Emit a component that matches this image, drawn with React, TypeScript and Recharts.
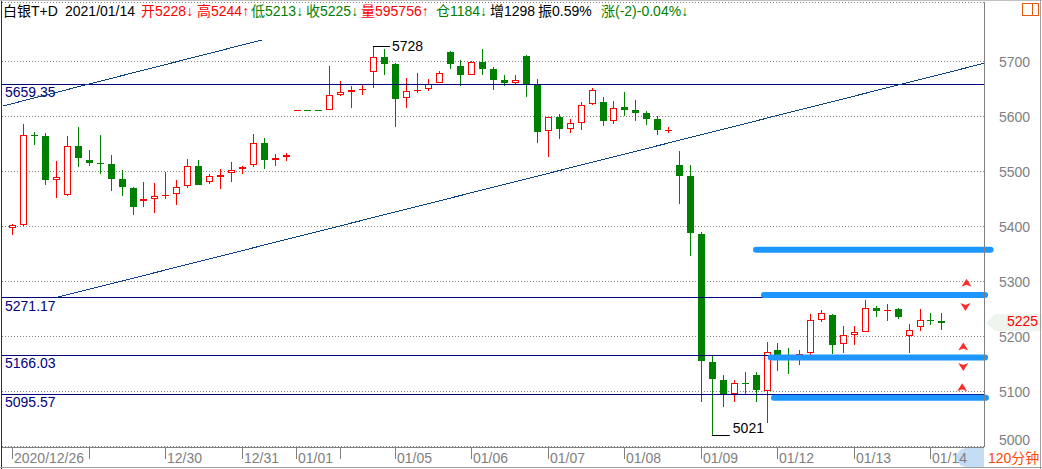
import React from 'react';
import {
  ComposedChart,
  Bar,
  XAxis,
  YAxis,
  CartesianGrid,
  ReferenceLine,
  ReferenceDot,
} from 'recharts';

// 白银T+D, 120-minute bars, 2020/12/26 .. 2021/01/14
const opens = [
  5397, 5403, 5567, 5565, 5484, 5457, 5546, 5521, 5516, 5514, 5486, 5470, 5446, 5450, 5457, 5459, 5474, 5510,
  5481, 5490, 5497, 5504, 5512, 5552, 5522, 5527, 5611, 5612, 5612, 5613, 5640, 5645, 5648, 5682, 5709, 5696,
  5634, 5647, 5651, 5661, 5717, 5692, 5675, 5699, 5687, 5666, 5661, 5710, 5658, 5574, 5600, 5577, 5589, 5623,
  5627, 5593, 5618, 5612, 5607, 5596, 5575, 5512, 5492, 5387, 5154, 5121, 5096, 5116, 5131, 5102, 5175, 5161,
  5167, 5170, 5231, 5240, 5186, 5204, 5209, 5252, 5247, 5250, 5202, 5217, 5231, 5228,
];
const highs = [
  5405, 5587, 5573, 5570, 5520, 5565, 5581, 5540, 5567, 5530, 5503, 5472, 5481, 5480, 5500, 5485, 5523, 5521,
  5496, 5505, 5518, 5510, 5569, 5561, 5532, 5534, 5612, 5612, 5612, 5692, 5665, 5656, 5660, 5728, 5723, 5697,
  5670, 5680, 5669, 5683, 5720, 5703, 5701, 5723, 5691, 5675, 5676, 5712, 5669, 5600, 5605, 5595, 5627, 5652,
  5636, 5629, 5645, 5630, 5610, 5601, 5581, 5538, 5512, 5390, 5165, 5131, 5121, 5136, 5136, 5190, 5188, 5179,
  5175, 5241, 5249, 5241, 5220, 5220, 5267, 5256, 5260, 5253, 5223, 5250, 5243, 5244,
];
const lows = [
  5385, 5402, 5549, 5475, 5453, 5455, 5509, 5511, 5496, 5464, 5456, 5422, 5435, 5424, 5451, 5440, 5470, 5475,
  5477, 5469, 5482, 5495, 5509, 5504, 5511, 5520, 5611, 5611, 5611, 5613, 5638, 5616, 5640, 5653, 5675, 5582,
  5616, 5643, 5646, 5661, 5686, 5656, 5675, 5675, 5649, 5655, 5658, 5636, 5553, 5526, 5560, 5570, 5576, 5621,
  5583, 5587, 5601, 5593, 5584, 5567, 5571, 5442, 5346, 5082, 5021, 5073, 5082, 5094, 5082, 5043, 5138, 5132,
  5149, 5167, 5227, 5169, 5171, 5185, 5209, 5235, 5229, 5233, 5171, 5211, 5221, 5213,
];
const closes = [
  5403, 5566, 5566, 5484, 5490, 5546, 5524, 5516, 5515, 5487, 5473, 5435, 5450, 5455, 5458, 5472, 5510, 5476,
  5492, 5494, 5503, 5508, 5552, 5522, 5524, 5530, 5612, 5611, 5611, 5639, 5644, 5648, 5650, 5708, 5695, 5633,
  5646, 5649, 5660, 5679, 5695, 5675, 5700, 5687, 5667, 5661, 5666, 5658, 5573, 5600, 5578, 5588, 5621, 5649,
  5593, 5616, 5612, 5607, 5596, 5575, 5576, 5493, 5389, 5155, 5124, 5096, 5115, 5115, 5103, 5173, 5166, 5160,
  5168, 5230, 5244, 5185, 5203, 5208, 5252, 5247, 5248, 5235, 5213, 5230, 5230, 5225,
];

const tickBars = [0, 7, 14, 21, 26, 30, 35, 42, 49, 56, 63, 70, 77, 84];
const tickLabels = ['2020/12/26', '', '12/30', '12/31', '01/01', '', '01/05', '01/06', '01/07', '01/08', '01/09', '01/12', '01/13', '01/14'];
const priceTicks = [5000, 5100, 5200, 5300, 5400, 5500, 5600, 5700];

// horizontal price levels drawn on the chart
const levels = [5659.35, 5271.17, 5166.03, 5095.57];

// trend lines: [startBar, startPrice, endBar, endPrice]
const trendLines = [
  [-0.85, 5619.5, 22.85, 5739.5],
  [4.09, 5271.5, 88.9, 5697],
];

// thick blue zone lines: [fromBar, toBar, price]
const zoneLines = [
  [68.04, 89.5, 5358],
  [68.77, 89.0, 5276],
  [69.39, 89.0, 5162],
  [69.69, 89.08, 5089],
];

// red arrow marks: [bar, price, direction]
const arrowMarks: [number, number, string][] = [
  [87.3, 5298, 'up'],
  [87.2, 5254, 'down'],
  [87.0, 5182, 'up'],
  [87.0, 5145, 'down'],
  [86.9, 5108, 'up'],
];

const volume = 595756;
const openInterest = 1184;
const oiChange = 1298;
const amplitude = '0.59%';
const changeText = '(-2)-0.04%';

const RED = '#ff0000';
const GREEN = '#008000';
const NAVY = '#000080';
const GRAY = '#808080';
const FONT = '"Liberation Sans", Arial, "Noto Sans CJK SC", sans-serif';

const data = opens.map((o, i) => ({
  i,
  o,
  h: highs[i],
  l: lows[i],
  c: closes[i],
  range: [lows[i], highs[i]],
}));

const last = data.length - 1;
const hiIdx = highs.indexOf(Math.max(...highs));
const loIdx = lows.indexOf(Math.min(...lows));

const Candle = (props: any) => {
  const { x, y, width, height, payload } = props;
  if (x == null || y == null || !payload) return null;
  const { o, h, l, c } = payload;
  const top = Math.min(y, y + height);
  const bottom = Math.max(y, y + height);
  const span = h - l;
  const py = (v: number) => (span > 0 ? top + ((h - v) / span) * (bottom - top) : top);
  const cx = Math.round(x + width / 2);
  const up = c >= o;
  const color = up ? RED : GREEN;
  const bTop = Math.round(py(Math.max(o, c)));
  const bBot = Math.round(py(Math.min(o, c)));
  const bh = Math.max(bBot - bTop, 1);
  const wx = cx + 0.5;
  return (
    <g>
      <line x1={wx} x2={wx} y1={Math.round(top)} y2={Math.round(bottom)} stroke={color} strokeWidth={1} />
      {up && bh > 2 ? (
        <rect x={cx - 2.5} y={bTop + 0.5} width={6} height={bh - 1} fill="#fff" stroke={color} strokeWidth={1} />
      ) : (
        <rect x={cx - 3} y={bTop} width={7} height={bh} fill={color} />
      )}
    </g>
  );
};

const DateTick = (props: any) => {
  const { x, payload } = props;
  const k = tickBars.indexOf(payload.value);
  const label = k >= 0 ? tickLabels[k] : '';
  const tx = Math.round(x) + 0.5;
  return (
    <g>
      <line x1={tx} x2={tx} y1={448} y2={459} stroke={GRAY} />
      {label && (
        <text x={tx + 1.5} y={463} fill={GRAY} fontSize={14} fontFamily={FONT}>
          {label}
        </text>
      )}
    </g>
  );
};

const PriceTick = (props: any) => {
  const { y, payload } = props;
  const ty = Math.min(y, 440);
  return (
    <text x={999} y={ty + 5} fill={GRAY} fontSize={14} fontFamily={FONT}>
      {payload.value}
    </text>
  );
};

const levelLabel = (text: string) => (p: any) => (
  <text x={p.viewBox.x + 3} y={p.viewBox.y + 13} fill={NAVY} fontSize={14} fontFamily={FONT}>
    {text}
  </text>
);

const Arrow = (dir: string) => (p: any) => {
  const { cx, cy } = p;
  const pts =
    dir === 'up'
      ? `${cx - 5},${cy + 4} ${cx},${cy - 4} ${cx + 5},${cy + 4} ${cx},${cy + 2}`
      : `${cx - 5},${cy - 4} ${cx},${cy - 2} ${cx + 5},${cy - 4} ${cx},${cy + 4}`;
  return <polygon points={pts} fill="#ff2a2a" />;
};

const HighMark = (p: any) => (
  <g>
    <line x1={p.cx} x2={p.cx + 17} y1={Math.round(p.cy) + 0.5} y2={Math.round(p.cy) + 0.5} stroke="#000" />
    <text x={p.cx + 19} y={p.cy + 5} fill="#000" fontSize={14} fontFamily={FONT}>
      {highs[hiIdx]}
    </text>
  </g>
);

const LowMark = (p: any) => (
  <g>
    <line x1={p.cx} x2={p.cx + 18} y1={Math.round(p.cy) + 0.5} y2={Math.round(p.cy) + 0.5} stroke="#000" />
    <text x={p.cx + 21} y={p.cy - 2} fill="#000" fontSize={14} fontFamily={FONT}>
      {lows[loIdx]}
    </text>
  </g>
);

const PriceMark = (p: any) => {
  const { cx, cy } = p;
  return (
    <g>
      <polygon
        points={`${cx + 2},${cy} ${cx + 11},${cy - 9} ${cx + 58},${cy - 9} ${cx + 58},${cy + 8} ${cx + 11},${cy + 8}`}
        fill="#eef5ee"
      />
      <text x={cx + 23} y={cy + 3} fill={RED} fontSize={14} fontFamily={FONT}>
        {closes[last]}
      </text>
    </g>
  );
};

const header = [
  { x: 3, text: '白银T+D', color: '#000' },
  { x: 65, text: '2021/01/14', color: '#000' },
  { x: 141, text: `开${opens[last]}↓`, color: RED },
  { x: 197, text: `高${highs[last]}↑`, color: RED },
  { x: 251, text: `低${lows[last]}↓`, color: GREEN },
  { x: 306, text: `收${closes[last]}↓`, color: GREEN },
  { x: 361, text: `量${volume}↑`, color: RED },
  { x: 436, text: `仓${openInterest}↓`, color: GREEN },
  { x: 490, text: `增${oiChange}`, color: '#000' },
  { x: 538, text: `振${amplitude}`, color: '#000' },
  { x: 601, text: `涨${changeText}↓`, color: GREEN },
];

export default function App() {
  return (
    <div
      style={{
        position: 'absolute',
        left: 0,
        top: 0,
        width: 1042,
        height: 469,
        background: '#fff',
        overflow: 'hidden',
        fontFamily: FONT,
      }}
    >
      {/* scrollbar thumb sits behind the axis labels */}
      <div
        style={{
          position: 'absolute',
          left: 957,
          top: 448,
          width: 27,
          height: 19,
          background: '#c4dcf4',
          borderRadius: '9px 0 0 9px',
        }}
      />
      <ComposedChart width={1042} height={469} data={data} margin={{ top: 2, right: 0, bottom: 0, left: 2 }}>
        <CartesianGrid vertical={false} stroke={GRAY} strokeDasharray="1 2" shapeRendering="crispEdges" />
        <XAxis
          dataKey="i"
          type="number"
          domain={[-0.94, 88.9]}
          allowDataOverflow
          ticks={tickBars}
          interval={0}
          height={22}
          axisLine={{ stroke: GRAY, shapeRendering: 'crispEdges' }}
          tickLine={false}
          tick={<DateTick />}
        />
        <YAxis
          orientation="right"
          width={58}
          domain={[4999.5, 5808.5]}
          allowDataOverflow
          ticks={priceTicks}
          interval={0}
          axisLine={{ stroke: GRAY, shapeRendering: 'crispEdges' }}
          tickLine={false}
          tick={<PriceTick />}
        />
        {levels.map((v) => (
          <ReferenceLine
            key={v}
            y={v}
            stroke={NAVY}
            strokeWidth={1}
            shapeRendering="crispEdges"
            label={levelLabel(v.toFixed(2))}
          />
        ))}
        {trendLines.map((t, k) => (
          <ReferenceLine
            key={'t' + k}
            segment={[
              { x: t[0], y: t[1] },
              { x: t[2], y: t[3] },
            ]}
            stroke="#0b4286"
            strokeWidth={1}
            shapeRendering="crispEdges"
            ifOverflow="visible"
          />
        ))}
        <Bar dataKey="range" barSize={9} shape={Candle} isAnimationActive={false} />
        {zoneLines.map((z, k) => (
          <ReferenceLine
            key={'z' + k}
            segment={[
              { x: z[0], y: z[2] },
              { x: z[1], y: z[2] },
            ]}
            stroke="#1e96ff"
            strokeWidth={6}
            strokeLinecap="round"
            ifOverflow="visible"
          />
        ))}
        {arrowMarks.map((a, k) => (
          <ReferenceDot key={'a' + k} x={a[0]} y={a[1]} r={4} shape={Arrow(a[2])} ifOverflow="visible" />
        ))}
        <ReferenceDot x={hiIdx} y={highs[hiIdx]} r={1} shape={HighMark} ifOverflow="visible" />
        <ReferenceDot x={loIdx} y={lows[loIdx]} r={1} shape={LowMark} ifOverflow="visible" />
        <ReferenceDot x={88.9} y={closes[last]} r={1} shape={PriceMark} ifOverflow="visible" />
      </ComposedChart>

      {header.map((g) => (
        <div
          key={g.x}
          style={{
            position: 'absolute',
            left: g.x,
            top: 2,
            fontSize: 14,
            lineHeight: '18px',
            color: g.color,
            whiteSpace: 'nowrap',
          }}
        >
          {g.text}
        </div>
      ))}

      {/* frame and decorations */}
      <div style={{ position: 'absolute', left: 1, top: 0, width: 1, height: 469, background: '#303030' }} />
      <div style={{ position: 'absolute', left: 0, top: 0, width: 1042, height: 1, background: '#c0c0c0' }} />
      <div style={{ position: 'absolute', left: 0, top: 467, width: 1042, height: 1, background: '#a0a0a0' }} />
      <div style={{ position: 'absolute', left: 1040, top: 0, width: 1, height: 469, background: '#a0a0a0' }} />
      <div
        style={{
          position: 'absolute',
          left: 1022,
          top: 3,
          width: 15,
          height: 11,
          border: '1px solid #e05a10',
        }}
      />
      <div style={{ position: 'absolute', left: 1032, top: 3, width: 1, height: 13, background: '#e05a10' }} />
      <div
        style={{
          position: 'absolute',
          left: 988,
          top: 449,
          fontSize: 14,
          lineHeight: '18px',
          color: '#ff4a00',
          whiteSpace: 'nowrap',
        }}
      >
        120分钟
      </div>
    </div>
  );
}
